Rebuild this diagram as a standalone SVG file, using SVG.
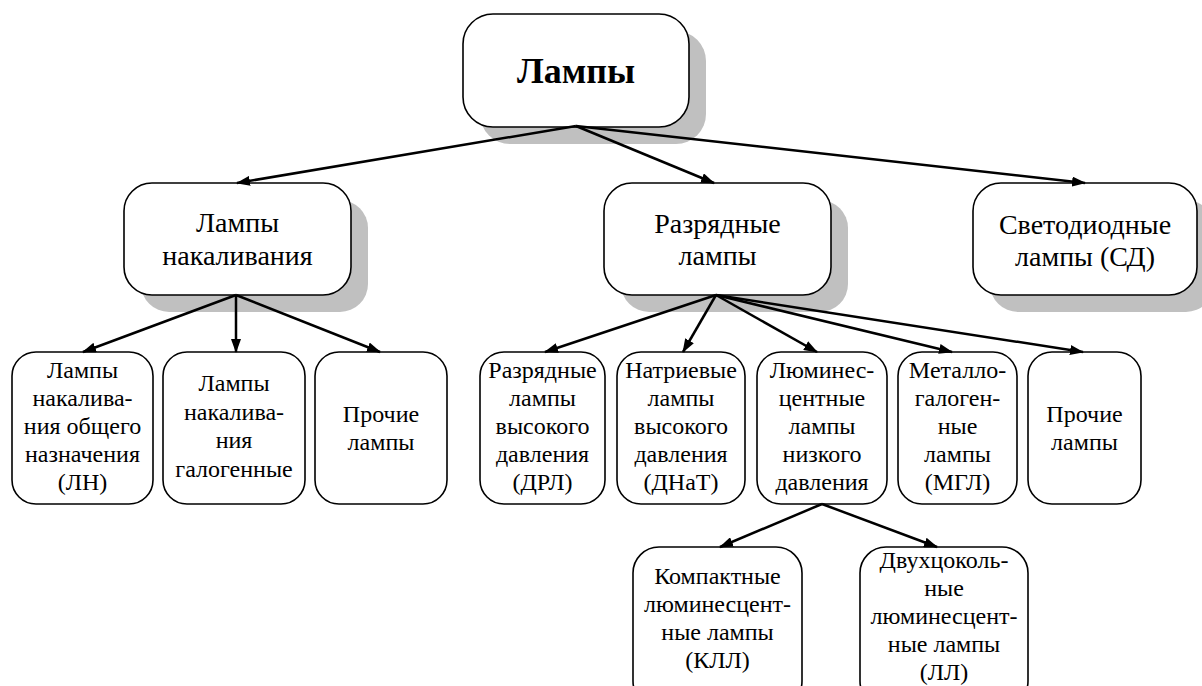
<svg xmlns="http://www.w3.org/2000/svg" width="1202" height="686" viewBox="0 0 1202 686">
<style>
.box{fill:#fff;stroke:#000;stroke-width:1.6}
.sh{fill:#c0c0c0;stroke:none}
.t{font-family:'Liberation Serif','Tinos','Times New Roman','DejaVu Serif','Noto Serif',serif;fill:#000;text-anchor:middle}
.t1{font-size:36px;font-weight:bold}
.t2{font-size:28px}
.t3{font-size:24px}
.c{stroke:#000;stroke-width:2.5;fill:none;marker-end:url(#ah)}
</style>
<defs>
<marker id="ah" viewBox="0 0 14 10" refX="13" refY="5" markerWidth="14" markerHeight="10" markerUnits="userSpaceOnUse" orient="auto">
<path d="M0,0 L14,5 L0,10 Z" fill="#000"/>
</marker>
</defs>
<rect width="1202" height="686" fill="#fff"/>

<g id="n-root">
<rect class="sh" x="480" y="31" width="226" height="113" rx="30"/>
<rect class="box" x="463" y="14" width="226" height="113" rx="30"/>
<text class="t t1" x="576" y="83">Лампы</text>
</g>

<g id="n-nakal">
<rect class="sh" x="141" y="200" width="227" height="112" rx="28"/>
<rect class="box" x="124" y="183" width="227" height="112" rx="28"/>
<text class="t t2" x="237.5" y="232">Лампы</text>
<text class="t t2" x="237.5" y="265">накаливания</text>
</g>

<g id="n-razr">
<rect class="sh" x="621" y="200" width="227" height="112" rx="28"/>
<rect class="box" x="604" y="183" width="227" height="112" rx="28"/>
<text class="t t2" x="717.5" y="233">Разрядные</text>
<text class="t t2" x="717.5" y="265">лампы</text>
</g>

<g id="n-sd">
<rect class="sh" x="990" y="200" width="224" height="112" rx="28"/>
<rect class="box" x="973" y="183" width="224" height="112" rx="28"/>
<text class="t t2" x="1085" y="234">Светодиодные</text>
<text class="t t2" x="1085" y="266">лампы (СД)</text>
</g>

<g id="n-ln">
<rect class="box" x="12" y="352" width="141" height="152" rx="24"/>
<text class="t t3" x="82.5" y="378">Лампы</text>
<text class="t t3" x="82.5" y="406">накалива-</text>
<text class="t t3" x="82.5" y="434">ния общего</text>
<text class="t t3" x="82.5" y="462">назначения</text>
<text class="t t3" x="82.5" y="490">(ЛН)</text>
</g>

<g id="n-gal">
<rect class="box" x="163" y="352" width="142" height="152" rx="24"/>
<text class="t t3" x="234" y="391">Лампы</text>
<text class="t t3" x="234" y="420">накалива-</text>
<text class="t t3" x="234" y="448">ния</text>
<text class="t t3" x="234" y="477">галогенные</text>
</g>

<g id="n-pr1">
<rect class="box" x="315" y="352" width="132" height="152" rx="24"/>
<text class="t t3" x="381" y="422">Прочие</text>
<text class="t t3" x="381" y="450">лампы</text>
</g>

<g id="n-drl">
<rect class="box" x="480" y="352" width="125" height="152" rx="24"/>
<text class="t t3" x="542.5" y="378">Разрядные</text>
<text class="t t3" x="542.5" y="406">лампы</text>
<text class="t t3" x="542.5" y="434">высокого</text>
<text class="t t3" x="542.5" y="462">давления</text>
<text class="t t3" x="542.5" y="490">(ДРЛ)</text>
</g>

<g id="n-dnat">
<rect class="box" x="617" y="352" width="128" height="152" rx="24"/>
<text class="t t3" x="681" y="378">Натриевые</text>
<text class="t t3" x="681" y="406">лампы</text>
<text class="t t3" x="681" y="434">высокого</text>
<text class="t t3" x="681" y="462">давления</text>
<text class="t t3" x="681" y="490">(ДНаТ)</text>
</g>

<g id="n-lum">
<rect class="box" x="757" y="352" width="130" height="152" rx="24"/>
<text class="t t3" x="822" y="378">Люминес-</text>
<text class="t t3" x="822" y="406">центные</text>
<text class="t t3" x="822" y="434">лампы</text>
<text class="t t3" x="822" y="462">низкого</text>
<text class="t t3" x="822" y="490">давления</text>
</g>

<g id="n-mgl">
<rect class="box" x="898" y="352" width="119" height="152" rx="24"/>
<text class="t t3" x="957.5" y="378">Металло-</text>
<text class="t t3" x="957.5" y="406">галоген-</text>
<text class="t t3" x="957.5" y="434">ные</text>
<text class="t t3" x="957.5" y="462">лампы</text>
<text class="t t3" x="957.5" y="490">(МГЛ)</text>
</g>

<g id="n-pr2">
<rect class="box" x="1028" y="352" width="113" height="152" rx="24"/>
<text class="t t3" x="1084.5" y="422">Прочие</text>
<text class="t t3" x="1084.5" y="450">лампы</text>
</g>

<g id="n-kll">
<rect class="box" x="633" y="547" width="169" height="160" rx="26"/>
<text class="t t3" x="717.5" y="584">Компактные</text>
<text class="t t3" x="717.5" y="612">люминесцент-</text>
<text class="t t3" x="717.5" y="640">ные лампы</text>
<text class="t t3" x="717.5" y="668">(КЛЛ)</text>
</g>

<g id="n-ll">
<rect class="box" x="860" y="547" width="168" height="160" rx="26"/>
<text class="t t3" x="944" y="568">Двухцоколь-</text>
<text class="t t3" x="944" y="596">ные</text>
<text class="t t3" x="944" y="624">люминесцент-</text>
<text class="t t3" x="944" y="652">ные лампы</text>
<text class="t t3" x="944" y="680">(ЛЛ)</text>
</g>

<g id="connectors">
<line class="c" x1="576" y1="126" x2="237" y2="183"/>
<line class="c" x1="576" y1="126" x2="714" y2="183"/>
<line class="c" x1="576" y1="126" x2="1085" y2="183"/>
<line class="c" x1="236" y1="295" x2="83" y2="352"/>
<line class="c" x1="236" y1="295" x2="236" y2="352"/>
<line class="c" x1="236" y1="295" x2="380" y2="352"/>
<line class="c" x1="716" y1="295" x2="545" y2="352"/>
<line class="c" x1="716" y1="295" x2="683" y2="352"/>
<line class="c" x1="716" y1="295" x2="817" y2="352"/>
<line class="c" x1="716" y1="295" x2="952" y2="352"/>
<line class="c" x1="716" y1="295" x2="1083" y2="352"/>
<line class="c" x1="822" y1="504" x2="720" y2="547"/>
<line class="c" x1="822" y1="504" x2="937" y2="547"/>
</g>
</svg>
